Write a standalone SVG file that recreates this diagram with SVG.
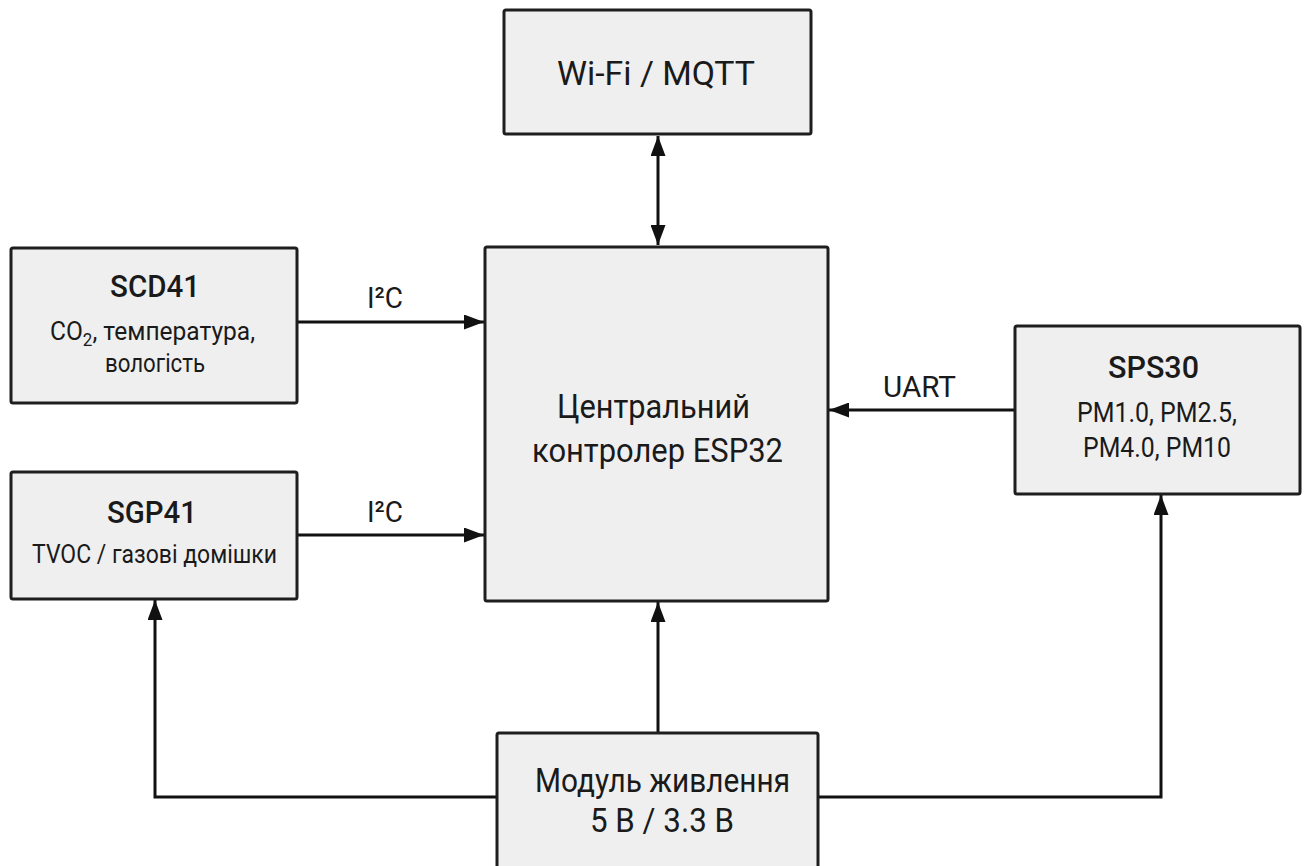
<svg xmlns="http://www.w3.org/2000/svg" width="1304" height="866" viewBox="0 0 1304 866">
<style>
.box{fill:#efefef;stroke:#1e1e1e;stroke-width:3}
.t{font-family:Roboto,"Liberation Sans",sans-serif;fill:#1a1a1a;text-anchor:middle}
.h{font-size:32px;font-weight:500}
.s{font-size:26px}
.p{font-size:28px}
.l{font-size:30px}
.m{font-size:33px}
.c{fill:none;stroke:#111;stroke-width:3}
</style>
<defs>
<marker id="ah" viewBox="0 0 20 15" refX="20" refY="7.5" markerWidth="20" markerHeight="15" markerUnits="userSpaceOnUse" orient="auto-start-reverse">
<path d="M0,0 L20,7.5 L0,15 Z" fill="#111"/>
</marker>
</defs>
<rect width="1304" height="866" fill="#fff"/>
<g id="connectors">
<line class="c" x1="658" y1="136" x2="658" y2="245" marker-start="url(#ah)" marker-end="url(#ah)"/>
<line class="c" x1="298" y1="322" x2="484" y2="322" marker-end="url(#ah)"/>
<text class="t l" x="385" y="308" textLength="36" lengthAdjust="spacingAndGlyphs">I²C</text>
<line class="c" x1="298" y1="535" x2="484" y2="535" marker-end="url(#ah)"/>
<text class="t l" x="385" y="522" textLength="36" lengthAdjust="spacingAndGlyphs">I²C</text>
<line class="c" x1="1014" y1="410" x2="829" y2="410" marker-end="url(#ah)"/>
<text class="t l" x="919.5" y="397" textLength="73" lengthAdjust="spacingAndGlyphs">UART</text>
<line class="c" x1="658" y1="733" x2="658" y2="602" marker-end="url(#ah)"/>
<polyline class="c" points="497,797 155,797 155,600" marker-end="url(#ah)"/>
<polyline class="c" points="818,797 1161,797 1161,495" marker-end="url(#ah)"/>
</g>
<g id="wifi">
<rect class="box" x="504" y="10" width="307" height="124" rx="2"/>
<text class="t m" x="656" y="85" textLength="198" lengthAdjust="spacingAndGlyphs">Wi-Fi / MQTT</text>
</g>
<g id="esp32">
<rect class="box" x="485" y="247" width="343" height="354" rx="2"/>
<text class="t m" x="653.5" y="418" font-size="34" textLength="193" lengthAdjust="spacingAndGlyphs">Центральний</text>
<text class="t m" x="657.5" y="462" textLength="251" lengthAdjust="spacingAndGlyphs">контролер ESP32</text>
</g>
<g id="scd41">
<rect class="box" x="11" y="248" width="286" height="155" rx="2"/>
<text class="t h" x="155" y="297" textLength="90" lengthAdjust="spacingAndGlyphs">SCD41</text>
<text class="t s" x="152.5" y="340" textLength="205" lengthAdjust="spacingAndGlyphs">CO<tspan font-size="18" dy="6">2</tspan><tspan dy="-6">, температура,</tspan></text>
<text class="t s" x="155" y="372" textLength="100" lengthAdjust="spacingAndGlyphs">вологість</text>
</g>
<g id="sgp41">
<rect class="box" x="11" y="472" width="286" height="127" rx="2"/>
<text class="t h" x="152" y="523" textLength="90" lengthAdjust="spacingAndGlyphs">SGP41</text>
<text class="t s" x="154.5" y="563" textLength="245" lengthAdjust="spacingAndGlyphs">TVOC / газові домішки</text>
</g>
<g id="sps30">
<rect class="box" x="1015" y="326" width="285" height="168" rx="2"/>
<text class="t h" x="1153.5" y="378" textLength="91" lengthAdjust="spacingAndGlyphs">SPS30</text>
<text class="t p" x="1157" y="422" textLength="160" lengthAdjust="spacingAndGlyphs">PM1.0, PM2.5,</text>
<text class="t p" x="1157" y="457" textLength="148" lengthAdjust="spacingAndGlyphs">PM4.0, PM10</text>
</g>
<g id="power">
<rect class="box" x="497" y="733" width="321" height="145" rx="2"/>
<text class="t m" x="662.5" y="792" textLength="255" lengthAdjust="spacingAndGlyphs">Модуль живлення</text>
<text class="t m" x="662" y="832" textLength="144" lengthAdjust="spacingAndGlyphs">5 В / 3.3 В</text>
</g>
</svg>
